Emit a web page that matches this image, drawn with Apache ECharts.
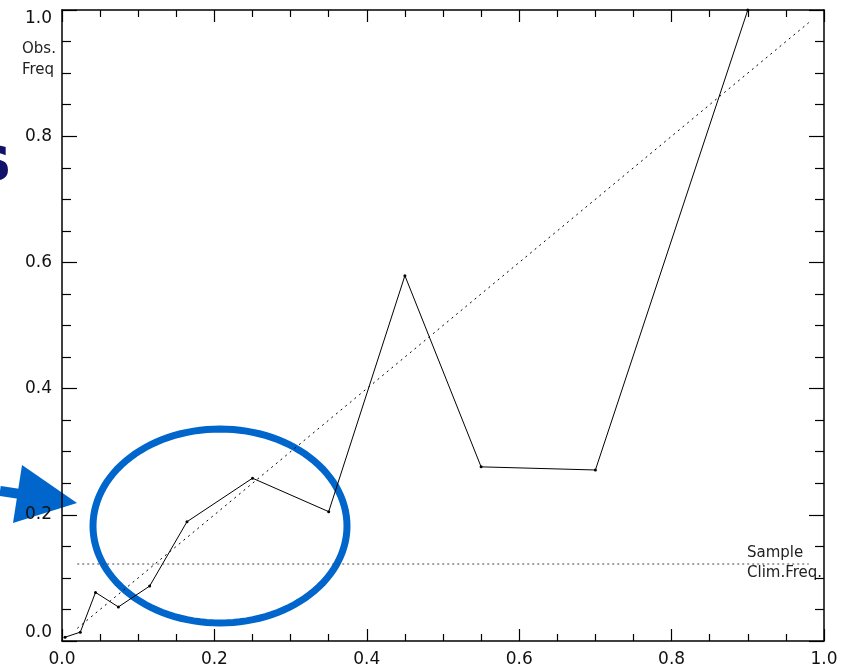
<!DOCTYPE html>
<html>
<head>
<meta charset="utf-8">
<script src="https://cdn.jsdelivr.net/npm/echarts@6/dist/echarts.min.js"></script>
<style>
  html, body { margin: 0; padding: 0; background: #fff; }
  #chart { width: 846px; height: 671px; }
</style>
</head>
<body>
<div id="chart"></div>
<script>
// forecast probability vs observed frequency (reliability)
const forecastProb = [0.004, 0.024, 0.044, 0.074, 0.115, 0.164, 0.25, 0.35, 0.45, 0.55, 0.70, 0.90];
const obsFreq = [0.006, 0.014, 0.077, 0.054, 0.087, 0.189, 0.258, 0.205, 0.579, 0.276, 0.271, 1.0];
// perfect reliability diagonal and sample climatology
const diagX = [0.02, 0.98];
const climFreq = 0.122;
const climX = [0.02, 0.98];

const reliability = forecastProb.map((p, i) => [p, obsFreq[i]]);
const diagonal = diagX.map(v => [v, v]);
const climLine = climX.map(v => [v, climFreq]);

const FONT = 'DejaVu Sans';
const BLUE = '#0066cc';

const chart = echarts.init(document.getElementById('chart'));

// box axis: bottom/left with labels, top/right only ticks
const baseAxis = (position, showLabel, major, minor) => ({
  type: 'value',
  min: 0, max: 1, interval: 0.2,
  position: position,
  axisLine: { show: true, onZero: false, lineStyle: { color: '#000', width: 1.5 } },
  axisTick: { show: true, inside: true, length: major, lineStyle: { color: '#000', width: 1.2 } },
  minorTick: { show: true, splitNumber: 4, length: minor, lineStyle: { color: '#000', width: 1.2 } },
  splitLine: { show: false },
  axisLabel: {
    show: showLabel,
    formatter: v => v.toFixed(1),
    color: '#111', fontFamily: FONT, fontSize: 17, margin: 10
  }
});

const yLeft = baseAxis('left', true, 15, 9);
yLeft.axisLabel.verticalAlignMinLabel = 'bottom';
yLeft.axisLabel.verticalAlignMaxLabel = 'top';

// blue annotation ellipse
const ellipsePts = [];
for (let i = 0; i < 120; i++) {
  const a = i / 120 * Math.PI * 2;
  ellipsePts.push([220 + 127 * Math.cos(a), 526 + 97 * Math.sin(a)]);
}

chart.setOption({
  animation: false,
  grid: { left: 62, right: 22, top: 10, bottom: 30 },
  xAxis: [baseAxis('bottom', true, 12, 7), baseAxis('top', false, 12, 7)],
  yAxis: [yLeft, baseAxis('right', false, 15, 9)],
  series: [
    {
      type: 'line',
      data: diagonal,
      showSymbol: false,
      lineStyle: { color: '#000', width: 1, type: [2, 4] },
      silent: true
    },
    {
      type: 'line',
      data: climLine,
      showSymbol: false,
      lineStyle: { color: '#444', width: 1, type: [2, 3] },
      silent: true
    },
    {
      type: 'line',
      data: reliability,
      symbol: 'circle',
      symbolSize: 3,
      itemStyle: { color: '#000' },
      lineStyle: { color: '#000', width: 1 },
      clip: true
    }
  ],
  graphic: [
    { type: 'text', left: 22, top: 39, style: { text: 'Obs.\nFreq', fontFamily: FONT, fontSize: 15, lineHeight: 21, fill: '#222' } },
    { type: 'text', left: 747, top: 543, style: { text: 'Sample\nClim.Freq.', fontFamily: FONT, fontSize: 15, lineHeight: 20, fill: '#222' } },
    // partial letter from the slide behind
    { type: 'text', left: -26, top: 133, style: { text: 's', fontFamily: FONT, fontSize: 62, fontWeight: 'bold', fill: '#12126a' } },
    // arrow
    { type: 'line', shape: { x1: 0, y1: 491, x2: 40, y2: 497 }, style: { stroke: BLUE, lineWidth: 10 } },
    { type: 'polygon', shape: { points: [[22, 465], [13, 523], [77, 503]] }, style: { fill: BLUE } },
    // circled region
    { type: 'polygon', shape: { points: ellipsePts }, style: { fill: 'none', stroke: BLUE, lineWidth: 7 } }
  ]
});
</script>
</body>
</html>
